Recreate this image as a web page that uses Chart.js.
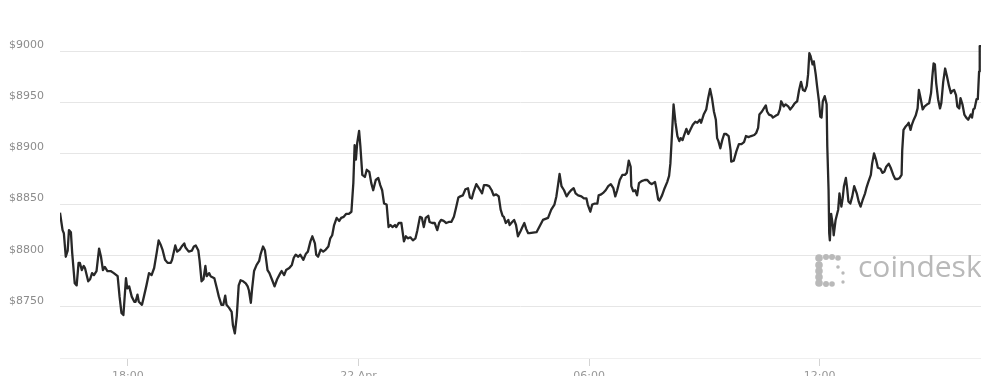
<!DOCTYPE html>
<html>
<head>
<meta charset="utf-8">
<script src="https://cdn.jsdelivr.net/npm/chart.js@4.4.1/dist/chart.umd.min.js"></script>
<style>
  html, body { margin: 0; padding: 0; background: #fff; }
  #wrap { width: 981px; height: 376px; position: relative; }
</style>
</head>
<body>
<div id="wrap"><canvas id="price-chart"></canvas></div>
<script>
// minutes relative to 00:00 on 22 Apr (negative = 21 Apr)
const minutes = [
  -466, -462, -460, -457, -454, -452, -449, -447, -443, -440, -437, -435, -432, -429, -427,
  -422, -419, -416, -413, -409, -405, -402, -399, -396, -392, -387, -382, -376, -373, -370,
  -367, -363, -361, -358, -354, -350, -348, -345, -343, -338, -335, -331, -327, -323, -319,
  -315, -312, -309, -306, -302, -298, -293, -291, -286, -283, -279, -276, -272, -270, -265,
  -260, -257, -254, -250, -248, -245, -242, -239, -237, -233, -231, -225, -221, -218, -214,
  -211, -208, -206, -202, -198, -196, -193, -190, -187, -184, -180, -176, -173, -171, -168,
  -166, -163, -159, -155, -153, -149, -146, -142, -139, -134, -131, -127, -122, -120, -116,
  -113, -108, -104, -101, -98,
  -94, -91, -86, -82, -79, -75, -72, -68, -66, -63, -59, -55, -51, -47, -44,
  -41, -38, -34, -30, -27, -23, -19, -15, -11, -8, -6, -4, -2, 1, 3,
  6, 10, 13, 17, 20, 23, 27, 31, 34, 37, 40, 44, 47, 50, 53,
  57, 59, 63, 67, 71, 74, 77, 81, 85, 89, 92, 96, 99, 102, 105,
  109, 111, 115, 119, 123, 126, 129, 133, 137, 141, 145, 149, 152, 156, 159,
  163, 167, 171, 174, 177, 180, 184, 188, 190, 193, 196, 200, 204, 208, 211,
  215, 219, 222, 225, 227, 230, 234, 236, 240, 243, 246, 249, 253, 256, 259,
  262, 265, 267, 278,
  288, 296, 301, 306, 309, 312, 314, 317, 321, 325, 328, 332, 336, 339, 343,
  348, 352, 356, 358, 362, 365, 369, 373, 375, 379, 383, 386, 390, 394, 398,
  401, 404, 408, 412, 416, 419, 422, 425, 426, 429, 432, 435, 438, 442, 447,
  451, 455, 458, 463, 465, 468, 470, 474, 478, 482, 485, 487, 489, 492, 495,
  498, 501, 503, 506, 508, 512, 515, 518, 522, 526, 529, 533, 535, 539, 543,
  546, 549, 552, 555, 558, 560, 562, 565, 568, 571, 574, 578, 581, 582, 586,
  590, 594, 598, 602, 605, 609, 613, 618, 621, 624, 626, 630, 633,
  636, 638, 641, 645, 647, 652, 655, 658, 660, 664, 667, 671, 674, 678, 681,
  685, 688, 691, 694, 697, 700, 702, 704, 706, 709, 711, 714, 716, 719, 721,
  723, 725, 728, 731, 732, 734, 735, 736, 738, 741, 742, 745, 749, 751, 754,
  756, 758, 761, 763, 765, 768, 771, 774, 778, 781, 784, 787, 791, 793, 796,
  800, 802, 805, 808, 811, 815, 818, 821, 824, 828, 831, 835, 838, 842, 845,
  848, 849, 851, 854, 857, 859, 862, 864, 867, 870, 873, 875, 878, 881, 884,
  888, 891, 894, 896, 898, 900, 902, 905, 908, 910, 913, 916, 919, 922, 925,
  927, 930, 933, 935, 938, 940, 943, 946, 949, 952, 956, 958, 960, 962, 965,
  967, 969, 970, 972
];

const prices = [
  8842, 8825, 8822, 8799, 8805, 8825, 8823, 8803, 8773, 8771, 8793, 8793, 8786, 8790, 8788,
  8775, 8777, 8783, 8781, 8785, 8807, 8799, 8786, 8789, 8785, 8785, 8783, 8780, 8760, 8744,
  8742, 8778, 8768, 8770, 8760, 8755, 8755, 8762, 8755, 8752, 8760, 8771, 8783, 8781, 8788,
  8803, 8815, 8811, 8806, 8796, 8793, 8793, 8796, 8810, 8804, 8806, 8809, 8812, 8808, 8804,
  8805, 8809, 8810, 8805, 8795, 8775, 8777, 8790, 8780, 8783, 8780, 8778, 8768, 8760, 8752,
  8752, 8761, 8752, 8749, 8745, 8732, 8724, 8741, 8771, 8776, 8775, 8773, 8770, 8766, 8754,
  8768, 8785, 8791, 8795, 8801, 8809, 8805, 8786, 8783, 8775, 8770, 8777, 8783, 8785, 8781,
  8786, 8788, 8791, 8798, 8801,
  8799, 8801, 8796, 8802, 8804, 8814, 8819, 8812, 8801, 8799, 8806, 8804, 8806, 8809, 8817,
  8820, 8830, 8837, 8834, 8837, 8838, 8841, 8841, 8843, 8871, 8908, 8894, 8910, 8922, 8907,
  8879, 8877, 8884, 8882, 8871, 8864, 8874, 8876, 8869, 8864, 8851, 8850, 8828, 8830, 8828,
  8830, 8828, 8832, 8832, 8814, 8819, 8817, 8818, 8815, 8817, 8825, 8838, 8837, 8828, 8837,
  8839, 8833, 8832, 8832, 8825, 8832, 8835, 8834, 8832, 8833, 8833, 8838, 8846, 8857, 8858,
  8859, 8865, 8866, 8857, 8856, 8863, 8870, 8866, 8864, 8861, 8869, 8869, 8868, 8864, 8859,
  8860, 8858, 8845, 8839, 8838, 8832, 8835, 8830, 8833, 8835, 8830, 8819, 8824, 8828, 8832,
  8826, 8822, 8822, 8823,
  8835, 8837, 8845, 8850, 8858, 8871, 8880, 8868, 8864, 8858, 8861, 8864, 8866, 8861, 8859,
  8858, 8856, 8856, 8850, 8843, 8850, 8851, 8851, 8859, 8860, 8862, 8864, 8868, 8870, 8866,
  8858, 8864, 8874, 8879, 8879, 8881, 8893, 8887, 8868, 8863, 8864, 8859, 8871, 8873, 8874,
  8874, 8871, 8870, 8872, 8866, 8855, 8854, 8859, 8866, 8872, 8878, 8890, 8913, 8948, 8930,
  8917, 8912, 8915, 8913, 8917, 8924, 8919, 8923, 8928, 8931, 8930, 8933, 8930, 8938, 8943,
  8954, 8963, 8954, 8941, 8933, 8915, 8912, 8905, 8913, 8919, 8919, 8917, 8903, 8892, 8893,
  8902, 8909, 8909, 8911, 8917, 8916, 8917, 8918, 8920, 8925, 8938, 8941, 8944,
  8947, 8941, 8938, 8937, 8935, 8937, 8938, 8943, 8951, 8946, 8948, 8946, 8943, 8946, 8949,
  8951, 8962, 8970, 8962, 8961, 8966, 8977, 8998, 8995, 8987, 8990, 8977, 8966, 8951, 8936,
  8935, 8951, 8956, 8948, 8907, 8864, 8822, 8815, 8841, 8828, 8820, 8835, 8845, 8861, 8848,
  8856, 8868, 8876, 8866, 8853, 8851, 8858, 8868, 8861, 8853, 8848, 8854, 8861, 8866, 8872,
  8879, 8890, 8900, 8894, 8886, 8885, 8881, 8882, 8887, 8890, 8886, 8879, 8875, 8875, 8876,
  8879, 8903, 8923, 8926, 8928, 8930, 8923, 8928, 8933, 8937, 8944, 8962, 8953, 8943, 8946,
  8948, 8949, 8959, 8975, 8988, 8987, 8969, 8953, 8944, 8949, 8970, 8983, 8975, 8966, 8959,
  8961, 8962, 8957, 8946, 8944, 8954, 8948, 8938, 8935, 8933, 8938, 8935, 8943, 8944, 8953,
  8953, 8980, 9005, 9005
];

const tickMinutes = [-360, 0, 360, 720];
const tickLabels = ["18:00", "22 Apr", "06:00", "12:00"];

Chart.defaults.font.family = "'DejaVu Sans', sans-serif";
Chart.defaults.font.size = 11;
Chart.defaults.color = "#8c8c8c";

// coindesk watermark in the lower right
const watermark = {
  id: "watermark",
  afterDraw(chart) {
    const ctx = chart.ctx;
    ctx.save();
    ctx.fillStyle = "#b9b9b9";
    const dots = [
      [819, 258, 3.8], [826, 257, 3.0], [832, 257, 3.0], [838, 258, 2.8],
      [819, 265, 3.8], [819, 271, 3.8], [819, 277, 3.8],
      [819, 283, 3.8], [826, 284, 3.0], [832, 284, 2.8],
      [838, 267, 1.8], [843, 273, 1.7], [843, 282, 1.7]
    ];
    dots.forEach(([x, y, r]) => {
      ctx.beginPath();
      ctx.arc(x, y, r, 0, Math.PI * 2);
      ctx.fill();
    });
    ctx.font = "500 30px 'Open Sans', sans-serif";
    ctx.textBaseline = "alphabetic";
    ctx.fillText("coindesk", 858, 277);
    ctx.restore();
  },
};

const ctx = document.getElementById("price-chart").getContext("2d");

new Chart(ctx, {
  type: "line",
  data: {
    datasets: [
      {
        data: minutes.map((m, i) => ({ x: m, y: prices[i] })),
        borderColor: "#282828",
        borderWidth: 2.3,
        pointRadius: 0,
        tension: 0,
        borderJoinStyle: "round",
        fill: false,
      },
    ],
  },
  options: {
    responsive: true,
    maintainAspectRatio: false,
    animation: false,
    layout: { padding: { left: 0, right: 0, top: 0, bottom: 0 } },
    plugins: {
      legend: { display: false },
      tooltip: { enabled: false },
    },
    scales: {
      x: {
        type: "linear",
        min: -466,
        max: 972,
        afterBuildTicks: (scale) => {
          scale.ticks = tickMinutes.map((v) => ({ value: v }));
        },
        afterFit: (scale) => {
          scale.height = 18;
          scale.paddingLeft = 0;
          scale.paddingRight = 0;
        },
        ticks: {
          autoSkip: false,
          maxRotation: 0,
          padding: 4,
          color: "#999999",
          callback: (v) => tickLabels[tickMinutes.indexOf(v)],
        },
        grid: {
          drawOnChartArea: false,
          drawTicks: true,
          tickLength: 8,
          color: "#d4d4d4",
        },
        border: { display: true, color: "#efefef" },
      },
      y: {
        min: 8700,
        max: 9050,
        afterFit: (scale) => {
          scale.width = 60;
          scale.paddingTop = 0;
          scale.paddingBottom = 0;
        },
        ticks: {
          stepSize: 50,
          padding: 16,
          labelOffset: -6,
          color: "#8c8c8c",
          callback: (v) => (v === 8700 || v === 9050 ? "" : "$" + v),
        },
        grid: {
          drawTicks: false,
          color: (c) =>
            c.tick && (c.tick.value === 9050 || c.tick.value === 8700)
              ? "rgba(0,0,0,0)"
              : "#e6e6e6",
        },
        border: { display: false },
      },
    },
  },
  plugins: [watermark],
});
</script>
</body>
</html>
